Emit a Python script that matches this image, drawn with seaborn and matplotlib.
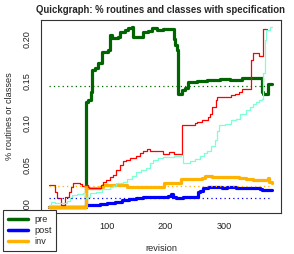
import numpy as np
import pandas as pd
import matplotlib
matplotlib.use("Agg")
import matplotlib.pyplot as plt
import seaborn as sns
from matplotlib.lines import Line2D

# step data: value holds from each revision until the next one
pre_rev = [1, 64, 68, 72, 75, 80, 85, 91, 102, 105, 108, 118, 122, 130, 136, 142, 144, 162, 170, 176,
           185, 196, 214, 216, 219, 221, 228, 233, 239, 253, 270, 293, 310, 330, 364, 367, 375, 381]
pre_val = [0.0, 0.125, 0.127, 0.137, 0.163, 0.165, 0.171, 0.185, 0.187, 0.205, 0.201, 0.203, 0.208, 0.211,
           0.213, 0.215, 0.203, 0.209, 0.210, 0.213, 0.211, 0.212, 0.200, 0.193, 0.187, 0.135, 0.139, 0.142,
           0.149, 0.150, 0.151, 0.152, 0.151, 0.153, 0.137, 0.135, 0.147, 0.147]

post_rev = [1, 64, 88, 100, 114, 125, 137, 150, 162, 200, 204, 209, 212, 217, 230, 255, 259, 264, 272,
            280, 296, 305, 320, 362, 365, 381]
post_val = [0.0, 0.002, 0.003, 0.005, 0.006, 0.008, 0.009, 0.010, 0.011, 0.012, 0.013, 0.015, 0.012,
            0.010, 0.012, 0.017, 0.019, 0.022, 0.024, 0.023, 0.022, 0.023, 0.022, 0.021, 0.020, 0.020]

inv_rev = [1, 64, 66, 88, 93, 134, 198, 227, 262, 268, 280, 325, 338, 350, 374, 377, 381]
inv_val = [0.0, 0.025, 0.022, 0.023, 0.026, 0.024, 0.028, 0.033, 0.034, 0.0365, 0.035, 0.034, 0.033,
           0.032, 0.034, 0.029, 0.028]

cls_rev = [1, 11, 14, 21, 28, 35, 38, 42, 54, 58, 63, 67, 70, 90, 93, 99, 106, 110, 116, 122, 127, 133,
           140, 150, 156, 162, 168, 174, 195, 205, 215, 228, 250, 254, 263, 272, 275, 280, 286, 288, 312,
           318, 326, 331, 340, 345, 350, 359, 366, 373]
cls_val = [0.026, 0.018, 0.010, 0.002, 0.012, 0.018, 0.024, 0.028, 0.027, 0.025, 0.026, 0.024, 0.022,
           0.026, 0.030, 0.032, 0.035, 0.038, 0.044, 0.050, 0.054, 0.056, 0.058, 0.060, 0.064, 0.067,
           0.069, 0.066, 0.063, 0.065, 0.063, 0.0975, 0.0995, 0.101, 0.104, 0.107, 0.111, 0.119, 0.127,
           0.131, 0.133, 0.135, 0.137, 0.140, 0.141, 0.175, 0.184, 0.180, 0.212, 0.212]

cinv_rev = [1, 5, 11, 15, 31, 37, 40, 48, 59, 62, 66, 71, 82, 88, 91, 105, 111, 116, 128, 134, 142, 150,
            158, 166, 173, 179, 187, 195, 214, 226, 230, 242, 250, 258, 266, 270, 278, 284, 287, 292, 302,
            312, 320, 327, 338, 344, 349, 355, 360, 364, 366, 369, 372, 378, 381]
cinv_val = [0.002, 0.006, 0.005, 0.004, 0.007, 0.010, 0.014, 0.015, 0.016, 0.010, 0.012, 0.016, 0.017,
            0.018, 0.021, 0.024, 0.025, 0.028, 0.030, 0.033, 0.037, 0.041, 0.044, 0.046, 0.052, 0.056,
            0.058, 0.059, 0.061, 0.062, 0.052, 0.054, 0.057, 0.060, 0.064, 0.067, 0.072, 0.080, 0.090,
            0.0975, 0.099, 0.103, 0.105, 0.111, 0.115, 0.119, 0.123, 0.125, 0.127, 0.128, 0.160, 0.199,
            0.211, 0.214, 0.214]

# averages drawn as dotted lines
avg_pre = 0.1445
avg_inv = 0.0247
avg_post = 0.0107

labels = ['pre', 'post', 'inv']
c_pre = '#006400'
c_post = '#0000FF'
c_inv = '#FFB300'
c_cls = '#FF0000'
c_cinv = '#7FFFD4'

sns.set_style('white')
plt.rcParams['font.family'] = ['Liberation Sans', 'DejaVu Sans']

fig = plt.figure(figsize=(2.94, 2.54), dpi=100)
ax = fig.add_axes([41 / 294, 41 / 254, 240 / 294, 193 / 254])

thick = 2.3
thin = 0.9
sns.lineplot(x=pre_rev, y=pre_val, ax=ax, color=c_pre, lw=thick, drawstyle='steps-post', estimator=None)
sns.lineplot(x=post_rev, y=post_val, ax=ax, color=c_post, lw=thick, drawstyle='steps-post', estimator=None)
sns.lineplot(x=inv_rev, y=inv_val, ax=ax, color=c_inv, lw=thick, drawstyle='steps-post', estimator=None)
sns.lineplot(x=cls_rev, y=cls_val, ax=ax, color=c_cls, lw=thin, drawstyle='steps-post', estimator=None)
sns.lineplot(x=cinv_rev, y=cinv_val, ax=ax, color=c_cinv, lw=thin, drawstyle='steps-post', estimator=None)

for val, col in [(avg_pre, c_pre), (avg_inv, c_inv), (avg_post, c_post)]:
    ax.plot([pre_rev[0], pre_rev[-1]], [val, val], color=col, lw=0.9, ls=(0, (1, 2.5)))

ax.set_xlim(-12.6, 397)
ax.set_ylim(-0.0075, 0.2228)
ax.set_xticks([0, 100, 200, 300])
# the "0" label sits under the legend box in the original
ax.set_xticklabels(['', '100', '200', '300'])
ax.set_yticks([0, 0.05, 0.10, 0.15, 0.20])
ax.set_yticklabels(['0.00', '0.05', '0.10', '0.15', '0.20'], rotation=90, va='center')
ax.tick_params(axis='both', direction='out', length=3.6, width=0.7, labelsize=6.6, pad=3, colors='#222222')
for s in ax.spines.values():
    s.set_color('#333333')
    s.set_linewidth(0.8)

ax.set_title('Quickgraph: % routines and classes with specification', fontsize=6.9, fontweight='bold', pad=5)
ax.set_xlabel('revision', fontsize=6.6, labelpad=9)
ax.set_ylabel('% routines or classes', fontsize=6.6, labelpad=6)

handles = [Line2D([], [], color=c, lw=2.5) for c in [c_pre, c_post, c_inv]]
leg = fig.legend(handles, labels, loc='lower left', bbox_to_anchor=(3 / 294, 3 / 254), fontsize=6.6,
                 frameon=True, fancybox=False, handlelength=2.2, labelspacing=0.25, borderpad=0.5,
                 handletextpad=0.7, borderaxespad=0)
leg.get_frame().set_edgecolor('#333333')
leg.get_frame().set_linewidth(0.8)
leg.get_frame().set_alpha(1)

fig.savefig('out.png', dpi=100)
